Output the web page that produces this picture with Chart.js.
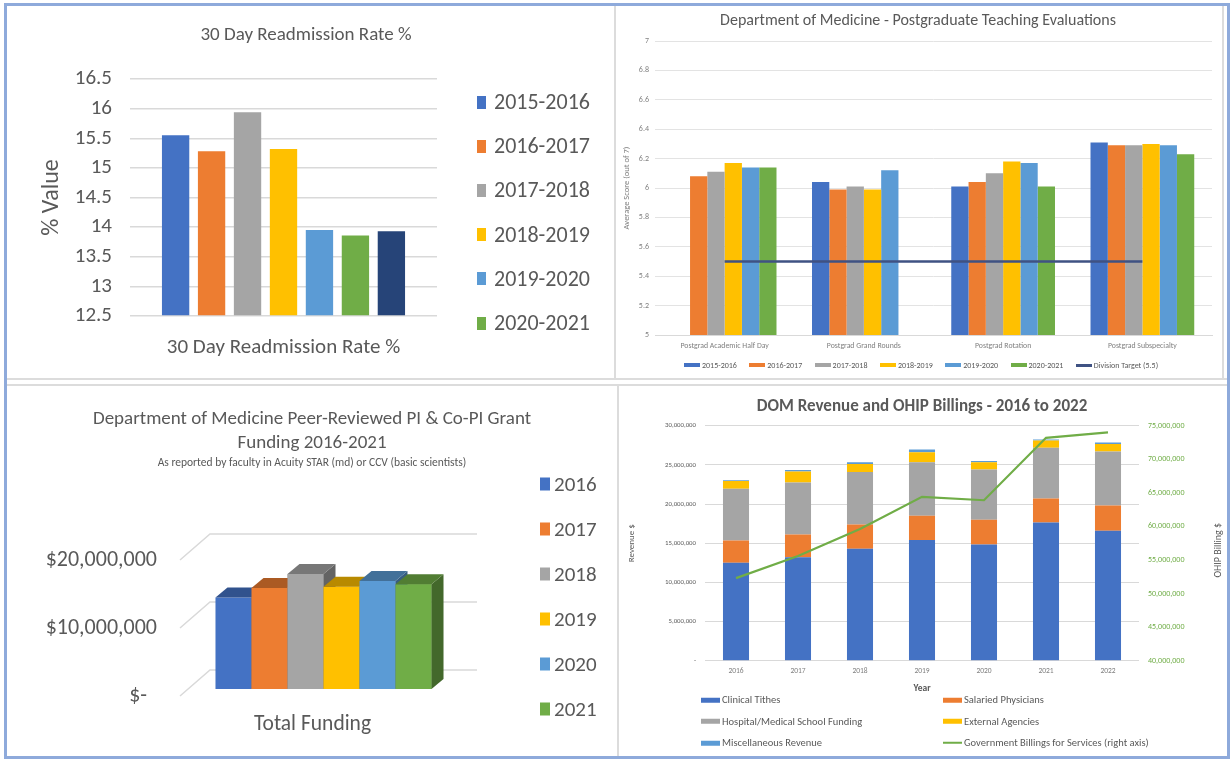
<!DOCTYPE html>
<html>
<head>
<meta charset="utf-8">
<script src="https://cdn.jsdelivr.net/npm/chart.js@4.4.1/dist/chart.umd.min.js"></script>
<style>
  html, body { margin: 0; padding: 0; background: #fff; }
  body { width: 1230px; height: 759px; position: relative; overflow: hidden;
         font-family: Carlito, Calibri, 'Liberation Sans Narrow', 'Open Sans', sans-serif; color: #595959; }
  #frame { position: absolute; left: 4px; top: 3px; width: 1226px; height: 756px; box-sizing: border-box; border: 3px solid #8eaadb; }
  .rule { position: absolute; background: #dcdcdc; }
  canvas { position: absolute; }
  .title { position: absolute; text-align: center; white-space: nowrap; line-height: 1; transform: translate(-50%, -50%); }
  .item { position: absolute; display: flex; align-items: center; white-space: nowrap; line-height: 1; transform: translateY(-50%); }
  .item .mk { display: inline-block; flex: none; }
</style>
</head>
<body>
<div id="frame"></div>
<div class="rule" style="left:614px;top:6px;width:2px;height:373px"></div>
<div class="rule" style="left:1222px;top:6px;width:2px;height:373px"></div>
<div class="rule" style="left:7px;top:378px;width:1220px;height:1.5px"></div>
<div class="rule" style="left:7px;top:384px;width:1220px;height:1.5px"></div>
<div class="rule" style="left:617px;top:384px;width:2px;height:372px"></div>

<canvas id="c1" width="605" height="370" style="left:8px;top:7px"></canvas>
<canvas id="c2" width="606" height="370" style="left:617px;top:7px"></canvas>
<canvas id="c3" width="608" height="370" style="left:8px;top:385px"></canvas>
<canvas id="c4" width="606" height="370" style="left:620px;top:385px"></canvas>

<div class="title" style="left:306px;top:33px;font-size:19px">30 Day Readmission Rate %</div>
<div class="title" style="left:918px;top:20px;font-size:16px">Department of Medicine - Postgraduate Teaching Evaluations</div>
<div class="title" style="left:312px;top:417px;font-size:19px">Department of Medicine Peer-Reviewed PI &amp; Co-PI Grant</div>
<div class="title" style="left:312px;top:441px;font-size:19px">Funding 2016-2021</div>
<div class="title" style="left:312px;top:463px;font-size:11.5px">As reported by faculty in Acuity STAR (md) or CCV (basic scientists)</div>
<div class="title" style="left:922px;top:405px;font-size:17px;font-weight:bold">DOM Revenue and OHIP Billings - 2016 to 2022</div>

<script>
const FONT = "Carlito, Calibri, 'Liberation Sans Narrow', 'Open Sans', sans-serif";
Chart.defaults.font.family = FONT;
Chart.defaults.color = '#595959';
Chart.defaults.animation = false;
Chart.defaults.responsive = false;
Chart.defaults.plugins.legend.display = false;
Chart.defaults.plugins.tooltip.enabled = false;

const OFFICE = ['#4472c4', '#ed7d31', '#a5a5a5', '#ffc000', '#5b9bd5', '#70ad47', '#264478'];

/* ── data: 30 day readmission ─────────────────────────── */
const readmitCategory = ['30 Day Readmission Rate %'];
const readmitYears = ['2015-2016', '2016-2017', '2017-2018', '2018-2019', '2019-2020', '2020-2021', '2021-2022'];
const readmitRates = [15.55, 15.28, 15.94, 15.32, 13.95, 13.86, 13.93];
const readmitLegendCount = 6;   // the 7th entry is cut off in the original

/* ── data: postgraduate teaching evaluations ──────────── */
const teachCats = ['Postgrad Academic Half Day', 'Postgrad Grand Rounds', 'Postgrad Rotation', 'Postgrad Subspecialty'];
const teachYears = ['2015-2016', '2016-2017', '2017-2018', '2018-2019', '2019-2020', '2020-2021'];
const teach1516 = [null, 6.04, 6.01, 6.31];
const teach1617 = [6.08, 5.99, 6.04, 6.29];
const teach1718 = [6.11, 6.01, 6.10, 6.29];
const teach1819 = [6.17, 5.99, 6.18, 6.30];
const teach1920 = [6.14, 6.12, 6.17, 6.29];
const teach2021 = [6.14, null, 6.01, 6.23];
const teachTargetLabel = 'Division Target (5.5)';
const teachTarget = [5.5, 5.5, 5.5, 5.5];

/* ── data: grant funding ──────────────────────────────── */
const fundCategory = ['Total Funding'];
const fundYears = ['2016', '2017', '2018', '2019', '2020', '2021'];
const fundTotals = [13450000, 14850000, 16900000, 15050000, 15900000, 15400000];
const fundTicks = [0, 10000000, 20000000];

/* ── data: DOM revenue and OHIP billings ──────────────── */
const revYears = ['2016', '2017', '2018', '2019', '2020', '2021', '2022'];
const clinicalTithes = [12500000, 13200000, 14300000, 15400000, 14850000, 17650000, 16600000];
const salariedPhys   = [2850000, 2900000, 3100000, 3100000, 3150000, 3050000, 3200000];
const hospitalFund   = [6600000, 6650000, 6700000, 6850000, 6400000, 6500000, 6900000];
const externalAgency = [1000000, 1400000, 1000000, 1250000, 950000, 900000, 950000];
const miscRevenue    = [100000, 200000, 250000, 350000, 150000, 150000, 200000];
const ohipBillings   = [52300000, 55600000, 59600000, 64400000, 63900000, 73200000, 74000000];
const revSeriesNames = ['Clinical Tithes', 'Salaried Physicians', 'Hospital/Medical School Funding',
                        'External Agencies', 'Miscellaneous Revenue', 'Government Billings for Services (right axis)'];

function legendItem(x, y, color, text, o) {
  const d = document.createElement('div');
  d.className = 'item';
  d.style.left = x + 'px'; d.style.top = y + 'px'; d.style.fontSize = o.size + 'px';
  const m = document.createElement('span');
  m.className = 'mk';
  m.style.width = o.w + 'px'; m.style.height = o.h + 'px';
  m.style.background = color; m.style.marginRight = o.gap + 'px';
  d.appendChild(m);
  d.appendChild(document.createTextNode(text));
  document.body.appendChild(d);
}

function shade(hex, f) {
  const n = parseInt(hex.slice(1), 16);
  const r = Math.round(((n >> 16) & 255) * f), g = Math.round(((n >> 8) & 255) * f), b = Math.round((n & 255) * f);
  return `rgb(${r},${g},${b})`;
}

/* ── C1: 30 day readmission ───────────────────────────── */
new Chart(document.getElementById('c1'), {
  type: 'bar',
  data: {
    labels: readmitCategory,
    datasets: readmitYears.map((y, i) => ({
      label: y, data: [readmitRates[i]], backgroundColor: OFFICE[i], base: 12.5
    }))
  },
  options: {
    layout: { padding: { left: 0, top: 72, right: 176, bottom: 0 } },
    datasets: { bar: { categoryPercentage: 0.82, barPercentage: 0.76 } },
    scales: {
      x: {
        grid: { display: false, drawTicks: false }, border: { display: false },
        ticks: { font: { size: 21 }, padding: 19 },
        afterFit: s => { s.height = 61; }
      },
      y: {
        min: 12.5, max: 16.5,
        ticks: { stepSize: 0.5, font: { size: 21 }, padding: 18, callback: v => String(Math.round(v * 10) / 10) },
        grid: { color: '#d9d9d9', lineWidth: 1.5, drawTicks: false },
        border: { display: false },
        title: { display: true, text: '% Value', font: { size: 24 }, padding: { top: 30 } },
        afterFit: s => { s.width = 122; }
      }
    }
  }
});
readmitYears.slice(0, readmitLegendCount).forEach((y, i) =>
  legendItem(477, 102 + 44.2 * i, OFFICE[i], y, { size: 22, w: 9, h: 13, gap: 8 }));

/* ── C2: postgraduate teaching evaluations ────────────── */
const teachSeries = [teach1516, teach1617, teach1718, teach1819, teach1920, teach2021];
new Chart(document.getElementById('c2'), {
  type: 'bar',
  data: {
    labels: teachCats,
    datasets: [
      ...teachYears.map((y, i) => ({ label: y, data: teachSeries[i], backgroundColor: OFFICE[i], order: 2 })),
      { type: 'line', label: teachTargetLabel, data: teachTarget, borderColor: '#3f5283',
        borderWidth: 2.5, pointRadius: 0, order: 1 }
    ]
  },
  options: {
    layout: { padding: { left: 0, top: 34, right: 11, bottom: 0 } },
    datasets: { bar: { categoryPercentage: 0.745, barPercentage: 1 } },
    scales: {
      x: {
        grid: { display: false, drawTicks: false }, border: { color: '#d9d9d9' },
        ticks: { font: { size: 7.8 }, padding: 6, color: '#808080', autoSkip: false, maxRotation: 0 },
        afterFit: s => { s.height = 42; }
      },
      y: {
        min: 5, max: 7,
        ticks: { stepSize: 0.2, font: { size: 8 }, padding: 6, color: '#808080', callback: v => String(Math.round(v * 10) / 10) },
        grid: { color: '#e3e3e3', drawTicks: false },
        border: { display: false },
        title: { display: true, text: 'Average Score (out of 7)', font: { size: 8.5 }, color: '#808080', padding: { top: 5 } },
        afterFit: s => { s.width = 38; }
      }
    }
  }
});
teachYears.forEach((y, i) => legendItem(684 + 65.3 * i, 365, OFFICE[i], y, { size: 8, w: 16, h: 3.5, gap: 2 }));
legendItem(684 + 65.3 * 6, 365, '#3f5283', teachTargetLabel, { size: 8, w: 16, h: 3, gap: 2 });

/* ── C3: grant funding (pseudo-3D) ────────────────────── */
const bar3d = {
  id: 'bar3d',
  beforeDatasetsDraw(chart, args, o) {
    const { ctx } = chart, y = chart.scales.y;
    ctx.save();
    ctx.strokeStyle = '#d9d9d9'; ctx.lineWidth = 1.5;
    y.ticks.forEach(t => {
      const p = y.getPixelForValue(t.value) + o.floorDrop;
      ctx.beginPath();
      ctx.moveTo(o.frontX, p);
      ctx.lineTo(o.frontX + o.wallDx, p - o.wallDy);
      ctx.lineTo(o.wallRight, p - o.wallDy);
      ctx.stroke();
    });
    ctx.restore();
  },
  afterDatasetsDraw(chart, args, o) {
    const { ctx } = chart;
    const bars = chart.data.datasets.map((ds, i) => ({ el: chart.getDatasetMeta(i).data[0], color: ds.backgroundColor }))
      .sort((a, b) => a.el.x - b.el.x);
    bars.forEach((b, i) => {
      const { x, y, base, width } = b.el.getProps(['x', 'y', 'base', 'width'], true);
      const l = x - width / 2, r = x + width / 2;
      ctx.save();
      ctx.fillStyle = shade(b.color, o.sideShade);
      ctx.beginPath();
      ctx.moveTo(r, y); ctx.lineTo(r + o.dx, y - o.dy); ctx.lineTo(r + o.dx, base - o.dy); ctx.lineTo(r, base);
      ctx.closePath(); ctx.fill();
      ctx.fillStyle = shade(b.color, o.topShade);
      ctx.beginPath();
      ctx.moveTo(l, y); ctx.lineTo(r, y); ctx.lineTo(r + o.dx, y - o.dy); ctx.lineTo(l + o.dx, y - o.dy);
      ctx.closePath(); ctx.fill();
      ctx.restore();
      if (bars[i + 1]) bars[i + 1].el.draw(ctx, chart.chartArea);
    });
  }
};

new Chart(document.getElementById('c3'), {
  type: 'bar',
  data: {
    labels: fundCategory,
    datasets: fundYears.map((y, i) => ({ label: y, data: [fundTotals[i]], backgroundColor: OFFICE[i] }))
  },
  options: {
    layout: { padding: { left: 0, top: 168, right: 141, bottom: 0 } },
    datasets: { bar: { categoryPercentage: 0.713, barPercentage: 1 } },
    plugins: {
      bar3d: { floorDrop: 7, frontX: 172, wallDx: 30, wallDy: 26, wallRight: 469, dx: 12, dy: 10, topShade: 0.72, sideShade: 0.6 }
    },
    scales: {
      x: {
        grid: { display: false, drawTicks: false }, border: { display: false },
        ticks: { font: { size: 21.5 }, padding: 23, labelOffset: -11 },
        afterFit: s => { s.height = 66; }
      },
      y: {
        min: 0, max: 20000000,
        afterBuildTicks: s => { s.ticks = fundTicks.map(v => ({ value: v })); },
        // accounting format: zero shows as "$-" with trailing spacing
        ticks: { font: { size: 22 }, padding: 15, labelOffset: 7,
                 callback: v => v === 0 ? '$-  ' : '$' + v.toLocaleString('en-US') },
        grid: { display: false, drawTicks: false }, border: { display: false },
        afterFit: s => { s.width = 164; }
      }
    }
  },
  plugins: [bar3d]
});
fundYears.forEach((y, i) => legendItem(540, 484 + 45 * i, OFFICE[i], y, { size: 21, w: 10, h: 13, gap: 4 }));

/* ── C4: DOM revenue and OHIP billings ────────────────── */
const rightTitle = {
  id: 'rightTitle',
  afterDraw(chart, args, o) {
    const { ctx, chartArea } = chart;
    ctx.save();
    ctx.translate(o.x, (chartArea.top + chartArea.bottom) / 2 + o.dy);
    ctx.rotate(-Math.PI / 2);
    ctx.font = `${o.size}px ${FONT}`;
    ctx.fillStyle = '#595959'; ctx.textAlign = 'center'; ctx.textBaseline = 'middle';
    ctx.fillText(o.text, 0, 0);
    ctx.restore();
  }
};

const revStack = [clinicalTithes, salariedPhys, hospitalFund, externalAgency, miscRevenue];
const revColors = ['#4472c4', '#ed7d31', '#a5a5a5', '#ffc000', '#5b9bd5'];
new Chart(document.getElementById('c4'), {
  type: 'bar',
  data: {
    labels: revYears,
    datasets: [
      ...revStack.map((d, i) => ({ label: revSeriesNames[i], data: d, backgroundColor: revColors[i], order: 2, yAxisID: 'y' })),
      { type: 'line', label: revSeriesNames[5], data: ohipBillings, borderColor: '#70ad47', borderWidth: 2.2,
        pointRadius: 0, yAxisID: 'y1', order: 1 }
    ]
  },
  options: {
    layout: { padding: { left: 0, top: 40.7, right: 0, bottom: 0 } },
    datasets: { bar: { categoryPercentage: 1, barPercentage: 0.42 } },
    plugins: { rightTitle: { x: 598, dy: 7, size: 10, text: 'OHIP Billing $' } },
    scales: {
      x: {
        stacked: true, grid: { display: false, drawTicks: false }, border: { display: false },
        ticks: { font: { size: 7.5 }, padding: 6, color: '#808080', autoSkip: false, maxRotation: 0 },
        title: { display: true, text: 'Year', font: { size: 9.5, weight: 'bold' }, padding: { bottom: 61 } },
        afterFit: s => { s.height = 94.3; }
      },
      y: {
        stacked: true, min: 0, max: 30000000,
        ticks: { stepSize: 5000000, font: { size: 6.8 }, padding: 9,
                 callback: v => v === 0 ? '-' : v.toLocaleString('en-US') },
        grid: { color: '#d9d9d9', drawTicks: false }, border: { display: false },
        title: { display: true, text: 'Revenue $', font: { size: 9 }, padding: { top: 6 } },
        afterFit: s => { s.width = 85; }
      },
      y1: {
        position: 'right', min: 40000000, max: 75000000,
        ticks: { stepSize: 5000000, color: '#70ad47', font: { size: 8 }, padding: 9,
                 callback: v => v.toLocaleString('en-US') },
        grid: { display: false, drawTicks: false }, border: { display: false },
        afterFit: s => { s.width = 87; }
      }
    }
  },
  plugins: [rightTitle]
});
const revLegendX = [701, 943], revLegendY = [700, 721.5, 743];
revSeriesNames.forEach((name, i) => {
  const isLine = i === 5;
  legendItem(revLegendX[i % 2], revLegendY[Math.floor(i / 2)], isLine ? '#70ad47' : revColors[i], name,
    { size: 10.5, w: 19, h: isLine ? 2 : 5, gap: 2 });
});
</script>
</body>
</html>
